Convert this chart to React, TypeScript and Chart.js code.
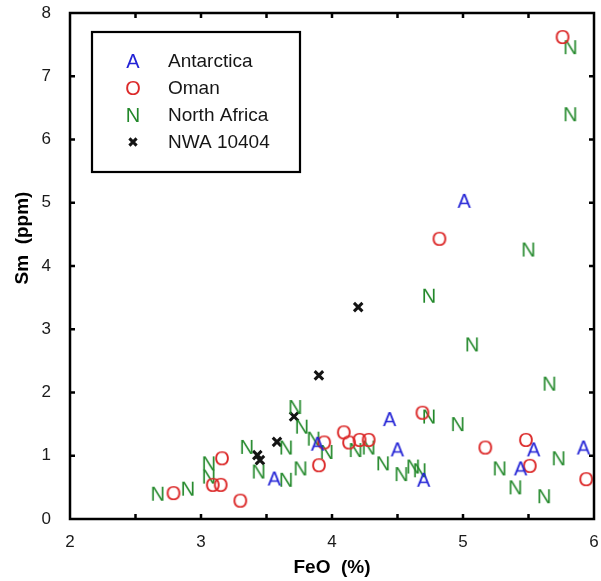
import React, { useEffect, useRef } from "react";
import { Chart, registerables } from "chart.js";

Chart.register(...registerables);

const antarcticaFeO = [5.01, 4.44, 4.50, 5.54, 5.92, 5.44, 4.70, 3.56, 3.89];
const antarcticaSm = [5.03, 1.58, 1.10, 1.10, 1.13, 0.80, 0.62, 0.64, 1.19];

const omanFeO = [5.76, 4.82, 4.69, 4.09, 4.13, 4.21, 4.28, 3.94, 3.90, 5.17, 5.48, 5.51, 5.94, 3.16, 2.79, 3.09, 3.15, 3.30];
const omanSm = [7.62, 4.43, 1.68, 1.37, 1.21, 1.25, 1.25, 1.21, 0.85, 1.13, 1.25, 0.84, 0.63, 0.96, 0.41, 0.54, 0.54, 0.29];

const northAfricaFeO = [2.67, 2.90, 3.06, 3.06, 3.35, 3.44, 3.65, 3.65, 3.72, 3.77, 3.76, 3.86, 3.96, 4.18, 4.28, 4.39, 4.53, 4.62, 4.67, 4.74, 4.96, 5.28, 5.40, 5.62, 5.73, 4.74, 5.07, 5.66, 5.50, 5.82, 5.82];
const northAfricaSm = [0.40, 0.48, 0.88, 0.67, 1.14, 0.75, 1.13, 0.62, 1.77, 1.46, 0.80, 1.27, 1.06, 1.09, 1.13, 0.88, 0.71, 0.83, 0.77, 1.62, 1.50, 0.80, 0.50, 0.36, 0.96, 3.53, 2.76, 2.14, 4.26, 6.40, 7.46];

const nwaFeO = [4.20, 3.90, 3.58, 3.43, 3.45, 3.71];
const nwaSm = [3.35, 2.27, 1.22, 1.01, 0.93, 1.62];

const seriesLabels = ["Antarctica", "Oman", "North Africa", "NWA 10404"];
const xTitle = "FeO  (%)";
const yTitle = "Sm  (ppm)";

const FONT = '"Liberation Sans", Arial, sans-serif';
const BLUE = "#2323d6";
const RED = "#dc2a2a";
const GREEN = "#22882a";
const BLACK = "#141414";

function zip(xs: number[], ys: number[]) {
  return xs.map((x, i) => ({ x, y: ys[i] }));
}

function glyph(ch: string, color: string, size: number) {
  const c = document.createElement("canvas");
  const w = 22, h = 22;
  c.width = w;
  c.height = h;
  const g = c.getContext("2d")!;
  g.font = `${size}px ${FONT}`;
  g.fillStyle = color;
  g.textAlign = "center";
  g.textBaseline = "alphabetic";
  g.fillText(ch, w / 2, h / 2 + (size * 0.716) / 2);
  return c;
}

function zeroPad(s: any) {
  s.paddingTop = 0;
  s.paddingBottom = 0;
  s.paddingLeft = 0;
  s.paddingRight = 0;
}

export default function App() {
  const ref = useRef<HTMLCanvasElement | null>(null);

  useEffect(() => {
    document.body.style.margin = "0";
    const canvas = ref.current!;
    const imgA = glyph("A", BLUE, 20);
    const imgO = glyph("O", RED, 20);
    const imgN = glyph("N", GREEN, 20);

    const framePlugin = {
      id: "frame",
      afterDraw(chart: any) {
        const { ctx, chartArea } = chart;
        const { left, right, top, bottom } = chartArea;
        const xs = chart.scales.x;
        const ys = chart.scales.y;
        ctx.save();
        ctx.strokeStyle = "#000";
        ctx.lineWidth = 2.5;
        ctx.strokeRect(left, top, right - left, bottom - top);
        const tl = 5;
        ctx.beginPath();
        for (let v = 2.5; v < 6; v += 0.5) {
          const px = xs.getPixelForValue(v);
          ctx.moveTo(px, bottom);
          ctx.lineTo(px, bottom - tl);
          ctx.moveTo(px, top);
          ctx.lineTo(px, top + tl);
        }
        for (let v = 1; v < 8; v += 1) {
          const py = ys.getPixelForValue(v);
          ctx.moveTo(left, py);
          ctx.lineTo(left + tl, py);
          ctx.moveTo(right, py);
          ctx.lineTo(right - tl, py);
        }
        ctx.stroke();

        // axis titles
        ctx.fillStyle = "#000";
        ctx.font = `bold 19px ${FONT}`;
        ctx.textAlign = "center";
        ctx.textBaseline = "middle";
        ctx.fillText(xTitle, (left + right) / 2, bottom + 49);
        ctx.save();
        ctx.translate(left - 47, top + 225);
        ctx.rotate(-Math.PI / 2);
        ctx.fillText(yTitle, 0, 0);
        ctx.restore();

        // legend
        const bx = left + 22, by = top + 19, bw = 208, bh = 140;
        ctx.fillStyle = "#fff";
        ctx.fillRect(bx, by, bw, bh);
        ctx.lineWidth = 2.2;
        ctx.strokeStyle = "#000";
        ctx.strokeRect(bx, by, bw, bh);
        const rowY = [by + 29, by + 56, by + 83, by + 110];
        const mx = bx + 41;
        const tx = bx + 76;
        const imgs = [imgA, imgO, imgN];
        ctx.font = `19px ${FONT}`;
        ctx.textAlign = "left";
        ctx.textBaseline = "middle";
        seriesLabels.forEach((lab, i) => {
          const y = rowY[i];
          if (i < 3) {
            const im = imgs[i];
            ctx.drawImage(im, mx - im.width / 2, y - im.height / 2);
          } else {
            ctx.beginPath();
            ctx.lineWidth = 3;
            ctx.strokeStyle = BLACK;
            const d = 3.6;
            ctx.moveTo(mx - d, y - d);
            ctx.lineTo(mx + d, y + d);
            ctx.moveTo(mx + d, y - d);
            ctx.lineTo(mx - d, y + d);
            ctx.stroke();
          }
          ctx.fillStyle = "#161616";
          ctx.fillText(lab, tx, y + 1);
        });
        ctx.restore();
      },
    };

    const tickFont = { family: FONT, size: 17 };

    const chart = new Chart(canvas, {
      type: "scatter",
      data: {
        datasets: [
          {
            label: seriesLabels[0],
            data: zip(antarcticaFeO, antarcticaSm),
            pointStyle: imgA as any,
            pointRadius: 8,
            clip: false as any,
          },
          {
            label: seriesLabels[1],
            data: zip(omanFeO, omanSm),
            pointStyle: imgO as any,
            pointRadius: 8,
            clip: false as any,
          },
          {
            label: seriesLabels[2],
            data: zip(northAfricaFeO, northAfricaSm),
            pointStyle: imgN as any,
            pointRadius: 8,
            clip: false as any,
          },
          {
            label: seriesLabels[3],
            data: zip(nwaFeO, nwaSm),
            pointStyle: "crossRot",
            pointRadius: 6,
            borderColor: BLACK,
            backgroundColor: BLACK,
            borderWidth: 3,
            clip: false as any,
          },
        ],
      },
      options: {
        responsive: false,
        animation: false,
        events: [],
        layout: { autoPadding: false, padding: { top: 13, right: 7, left: 0, bottom: 0 } },
        plugins: { legend: { display: false }, tooltip: { enabled: false } },
        scales: {
          x: {
            type: "linear",
            min: 2,
            max: 6,
            grid: { display: false },
            border: { display: false },
            ticks: {
              stepSize: 0.5,
              autoSkip: false,
              maxRotation: 0,
              color: "#1a1a1a",
              font: tickFont,
              padding: 5,
              callback: (v: any) => (Number.isInteger(v) ? String(v) : ""),
            },
            afterFit: (s: any) => {
              s.height = 62;
              zeroPad(s);
            },
          },
          y: {
            type: "linear",
            min: 0,
            max: 8,
            grid: { display: false },
            border: { display: false },
            ticks: {
              stepSize: 1,
              color: "#1a1a1a",
              font: tickFont,
              padding: 11,
            },
            afterFit: (s: any) => {
              s.width = 70;
              zeroPad(s);
            },
          },
        },
      },
      plugins: [framePlugin],
    });
    return () => chart.destroy();
  }, []);

  return (
    <div style={{ width: 601, height: 581 }}>
      <canvas ref={ref} width={601} height={581} style={{ display: "block" }} />
    </div>
  );
}
